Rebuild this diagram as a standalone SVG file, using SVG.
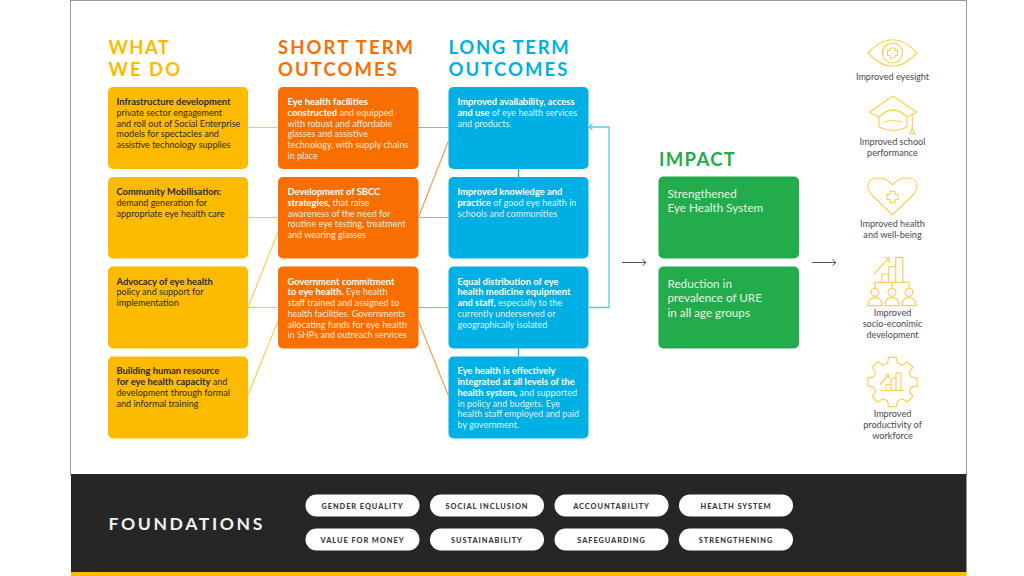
<svg xmlns="http://www.w3.org/2000/svg" width="1024" height="576" viewBox="0 0 1024 576">
<defs>
<marker id="ah" markerWidth="8" markerHeight="8" refX="6.5" refY="4" orient="auto" markerUnits="userSpaceOnUse"><path d="M3 1 L6.5 4 L3 7" fill="none" stroke="#555" stroke-width="1"/></marker>
<marker id="ab" markerWidth="8" markerHeight="8" refX="6.5" refY="4" orient="auto" markerUnits="userSpaceOnUse"><path d="M3 1 L6.5 4 L3 7" fill="none" stroke="#5cc8ec" stroke-width="1.200"/></marker>
</defs>
<style>
text{font-family:"Lato","Liberation Sans",sans-serif}
.h{font-size:18.500px;font-weight:700}
.t{font-size:9.050px}
.k{fill:#2a2a2a}.w{fill:#fff;fill-opacity:.88}
.b{font-weight:700;font-size:9.350px;fill-opacity:1}
.y{fill:#fdbb00}.o{fill:#f86f00}.c{fill:#00b0e4}.g{fill:#23ac4c}
.ly{stroke:#fdc94f;stroke-width:1.100;fill:none}
.lo{stroke:#fb9550;stroke-width:1.100;fill:none}
.lc{stroke:#5cc8ec;stroke-width:1.300;fill:none}
.i{stroke:#fdcf55;stroke-width:1.200;fill:none;stroke-linejoin:round;stroke-linecap:round}
.cap{font-size:9.100px;fill:#4a4a4a;text-anchor:middle}
.p{fill:#fff}
.pt{font-size:7.400px;font-weight:900;fill:#3a3a3a;text-anchor:middle;letter-spacing:.95px}
.im{font-size:11.700px;fill:#e4f5e9}
</style>
<rect width="1024" height="576" fill="#fff"/>
<rect x="70.500" y="0.500" width="896" height="474" fill="#fff" stroke="#9a9a9a" stroke-width="1"/>
<rect x="71" y="474" width="895.500" height="98" fill="#262626"/>
<rect x="71" y="572" width="895.500" height="4" fill="#fdbb00"/>

<g id="connectors">
<path class="ly" d="M248 127.500H278M248 217.500H278M248 307.500H278M248 307.500L278 232M248 395L278 321"/>
<path class="lo" d="M418.500 127.500H448.500M418.500 217.500H448.500M418.500 307.500H448.500M418.500 217L448.500 141M418.500 321L448.500 396"/>
<path d="M518.500 169V177M518.500 348.500V356.500" stroke="#00b0e4" stroke-width="1.200" fill="none"/>
<path class="lc" d="M589 307.500H609V127H589" marker-end="url(#ab)"/>
<path d="M622 262.500H646" stroke="#555" stroke-width="1" fill="none" marker-end="url(#ah)"/>
<path d="M812 262.500H836" stroke="#555" stroke-width="1" fill="none" marker-end="url(#ah)"/>
</g>

<g id="heading-what"><text class="h" fill="#fdbb00" x="108.500" y="53.500" letter-spacing="1.350">WHAT</text><text class="h" fill="#fdbb00" x="108.500" y="75.500" letter-spacing="2">WE DO</text></g>
<g id="heading-short"><text class="h" fill="#f86f00" x="278" y="53.500" letter-spacing="2.070">SHORT TERM</text><text class="h" fill="#f86f00" x="278" y="75.500" letter-spacing="2.050">OUTCOMES</text></g>
<g id="heading-long"><text class="h" fill="#00b0e4" x="448.500" y="53.500" letter-spacing="1.670">LONG TERM</text><text class="h" fill="#00b0e4" x="448.500" y="75.500" letter-spacing="2.050">OUTCOMES</text></g>
<g id="heading-impact"><text class="h" fill="#23ac4c" x="659" y="166" letter-spacing="1.300">IMPACT</text></g>

<g id="w1"><rect class="y" x="108" y="87" width="140" height="82" rx="5"/><text class="t k" x="116.500"><tspan class="b" x="116.500" y="105">Infrastructure development</tspan><tspan x="116.500" y="116">private sector engagement</tspan><tspan x="116.500" y="126.700">and roll out of Social Enterprise</tspan><tspan x="116.500" y="137.400">models for spectacles and</tspan><tspan x="116.500" y="148.200">assistive technology supplies</tspan></text></g>
<g id="w2"><rect class="y" x="108" y="177" width="140" height="81.500" rx="5"/><text class="t k"><tspan class="b" x="116.500" y="195">Community Mobilisation:</tspan><tspan x="116.500" y="206">demand generation for</tspan><tspan x="116.500" y="216.700">appropriate eye health care</tspan></text></g>
<g id="w3"><rect class="y" x="108" y="266.500" width="140" height="82" rx="5"/><text class="t k"><tspan class="b" x="116.500" y="284.500">Advocacy of eye health</tspan><tspan x="116.500" y="295.200">policy and support for</tspan><tspan x="116.500" y="306">implementation</tspan></text></g>
<g id="w4"><rect class="y" x="108" y="356.500" width="140" height="82" rx="5"/><text class="t k"><tspan class="b" x="116.500" y="374">Building human resource</tspan><tspan class="b" x="116.500" y="385">for eye health capacity</tspan><tspan> and</tspan><tspan x="116.500" y="395.700">development through formal</tspan><tspan x="116.500" y="406.500">and informal training</tspan></text></g>

<g id="s1"><rect class="o" x="278" y="87" width="140.500" height="82" rx="5"/><text class="t w"><tspan class="b" x="287.500" y="105">Eye health facilities</tspan><tspan class="b" x="287.500" y="116">constructed</tspan><tspan> and equipped</tspan><tspan x="287.500" y="126.700">with robust and affordable</tspan><tspan x="287.500" y="137.400">glasses and assistive</tspan><tspan x="287.500" y="148.200">technology, with supply chains</tspan><tspan x="287.500" y="159">in place</tspan></text></g>
<g id="s2"><rect class="o" x="278" y="177" width="140.500" height="81.500" rx="5"/><text class="t w"><tspan class="b" x="287.500" y="195">Development of SBCC</tspan><tspan class="b" x="287.500" y="206">strategies,</tspan><tspan> that raise</tspan><tspan x="287.500" y="216.700">awareness of the need for</tspan><tspan x="287.500" y="227.400">routine eye testing, treatment</tspan><tspan x="287.500" y="238.200">and wearing glasses</tspan></text></g>
<g id="s3"><rect class="o" x="278" y="266.500" width="140.500" height="82" rx="5"/><text class="t w"><tspan class="b" x="287.500" y="284.500">Government commitment</tspan><tspan class="b" x="287.500" y="295.200">to eye health.</tspan><tspan> Eye health</tspan><tspan x="287.500" y="306">staff trained and assigned to</tspan><tspan x="287.500" y="316.700">health facilities. Governments</tspan><tspan x="287.500" y="327.500">allocating funds for eye health</tspan><tspan x="287.500" y="338.300">in SHPs and outreach services</tspan></text></g>

<g id="l1"><rect class="c" x="448.500" y="87" width="140" height="82" rx="5"/><text class="t w"><tspan class="b" x="457.500" y="105">Improved availability, access</tspan><tspan class="b" x="457.500" y="116">and use</tspan><tspan> of eye health services</tspan><tspan x="457.500" y="126.700">and products.</tspan></text></g>
<g id="l2"><rect class="c" x="448.500" y="177" width="140" height="81.500" rx="5"/><text class="t w"><tspan class="b" x="457.500" y="195">Improved knowledge and</tspan><tspan class="b" x="457.500" y="206">practice</tspan><tspan> of good eye health in</tspan><tspan x="457.500" y="216.700">schools and communities</tspan></text></g>
<g id="l3"><rect class="c" x="448.500" y="266.500" width="140" height="82" rx="5"/><text class="t w"><tspan class="b" x="457.500" y="284.500">Equal distribution of eye</tspan><tspan class="b" x="457.500" y="295.200">health medicine equipment</tspan><tspan class="b" x="457.500" y="306">and staff,</tspan><tspan> especially to the</tspan><tspan x="457.500" y="316.700">currently underserved or</tspan><tspan x="457.500" y="327.500">geographically isolated</tspan></text></g>
<g id="l4"><rect class="c" x="448.500" y="356.500" width="140" height="82" rx="5"/><text class="t w"><tspan class="b" x="457.500" y="374">Eye health is effectively</tspan><tspan class="b" x="457.500" y="385">integrated at all levels of the</tspan><tspan class="b" x="457.500" y="395.700">health system,</tspan><tspan> and supported</tspan><tspan x="457.500" y="406.500">in policy and budgets. Eye</tspan><tspan x="457.500" y="417.300">health staff employed and paid</tspan><tspan x="457.500" y="428">by government.</tspan></text></g>

<g id="i1"><rect class="g" x="658.500" y="176.500" width="140.500" height="82" rx="5"/><text class="im"><tspan x="667.500" y="197.500">Strengthened</tspan><tspan x="667.500" y="212">Eye Health System</tspan></text></g>
<g id="i2"><rect class="g" x="658.500" y="266.500" width="140.500" height="82" rx="5"/><text class="im"><tspan x="667.500" y="287.500">Reduction in</tspan><tspan x="667.500" y="302">prevalence of URE</tspan><tspan x="667.500" y="316.500">in all age groups</tspan></text></g>

<g id="o1"><path class="i" d="M868 53Q892.500 26.500 917 53Q892.500 79.500 868 53Z"/><circle class="i" cx="892.500" cy="53" r="10"/><path class="i" d="M890 48h5v2.500h2.500v5h-2.500v2.500h-5v-2.500h-2.500v-5h2.500z"/><text class="cap" x="892.500" y="79.500">Improved eyesight</text></g>
<g id="o2"><path class="i" d="M879 117L869.300 112.300L893 96L916.700 112.300L907 117"/><path class="i" d="M879 117Q893 103 907 117V127Q893 134 879 127Z"/><path class="i" d="M884 122Q893 119 902 122"/><path class="i" d="M912.300 114V128.500"/><path class="i" d="M912.300 128.500L915 133.500H909.600Z"/><text class="cap"><tspan x="892.500" y="145">Improved school</tspan><tspan x="892.500" y="156">performance</tspan></text></g>
<g id="o3"><path class="i" d="M892.500 215L871 194Q868 190 868 186Q868 178 878 178Q887 178 892.500 185Q898 178 907 178Q917 178 917 186Q917 190 914 194Z"/><path class="i" d="M890 191.500h5v3h3v5h-3v3h-5v-3h-3v-5h3z"/><text class="cap"><tspan x="892.500" y="227">Improved health</tspan><tspan x="892.500" y="238">and well-being</tspan></text></g>
<g id="o4"><path class="i" d="M874 274L889 257.700M884 257.500H889V262.500"/><path class="i" d="M881.700 282.300V274H888.700V282.300M888.700 274V266.700H895.700V282.300M895.700 266.700V257.700H902.700V282.300"/><path class="i" d="M875 287.700V282.300H909V287.700M892 282.300V287.700"/><circle class="i" cx="875" cy="292.300" r="4"/><circle class="i" cx="892" cy="292.300" r="4"/><circle class="i" cx="909" cy="292.300" r="4"/><path class="i" d="M868 305.700Q868 297.700 875 297.700Q882 297.700 882 305.700ZM885 305.700Q885 297.700 892 297.700Q899 297.700 899 305.700ZM902 305.700Q902 297.700 909 297.700Q916 297.700 916 305.700Z"/><text class="cap"><tspan x="892.500" y="316">Improved</tspan><tspan x="892.500" y="327">socio-econimic</tspan><tspan x="892.500" y="338">development</tspan></text></g>
<g id="o5"><path class="i" transform="translate(892.500 382)" d="M-5.050-18.800L-3.900-24.700H3.900L5.050-18.800L9.720-16.860L14.710-20.220L20.220-14.710L16.860-9.720L18.800-5.050L24.700-3.900V3.900L18.800 5.050L16.860 9.720L20.220 14.710L14.710 20.220L9.720 16.860L5.050 18.800L3.900 24.700H-3.900L-5.050 18.800L-9.720 16.860L-14.710 20.220L-20.220 14.710L-16.860 9.720L-18.800 5.050L-24.700 3.900V-3.900L-18.800-5.050L-16.860-9.720L-20.220-14.710L-14.710-20.220L-9.720-16.860Z"/><path class="i" d="M880.500 390.500H904M886 390V384.500H891V390M891 390V378H896V390M896 390V373H901V390M880.500 384L889 374.500M885.500 374L889 374.500L888.500 378"/><text class="cap"><tspan x="892.500" y="417">Improved</tspan><tspan x="892.500" y="428">productivity of</tspan><tspan x="892.500" y="439">workforce</tspan></text></g>

<g id="foundations">
<text x="108.500" y="529.500" font-size="17.600px" font-weight="700" letter-spacing="2.600px" fill="#f2f2f2">FOUNDATIONS</text>
<rect class="p" x="305.500" y="494.500" width="114" height="22" rx="11"/><text class="pt" x="362.500" y="508.500">GENDER EQUALITY</text>
<rect class="p" x="430" y="494.500" width="114" height="22" rx="11"/><text class="pt" x="487" y="508.500">SOCIAL INCLUSION</text>
<rect class="p" x="554.500" y="494.500" width="114" height="22" rx="11"/><text class="pt" x="611.500" y="508.500">ACCOUNTABILITY</text>
<rect class="p" x="679" y="494.500" width="114" height="22" rx="11"/><text class="pt" x="736" y="508.500">HEALTH SYSTEM</text>
<rect class="p" x="305.500" y="528.500" width="114" height="22" rx="11"/><text class="pt" x="362.500" y="542.500">VALUE FOR MONEY</text>
<rect class="p" x="430" y="528.500" width="114" height="22" rx="11"/><text class="pt" x="487" y="542.500">SUSTAINABILITY</text>
<rect class="p" x="554.500" y="528.500" width="114" height="22" rx="11"/><text class="pt" x="611.500" y="542.500">SAFEGUARDING</text>
<rect class="p" x="679" y="528.500" width="114" height="22" rx="11"/><text class="pt" x="736" y="542.500">STRENGTHENING</text>
</g>
</svg>
